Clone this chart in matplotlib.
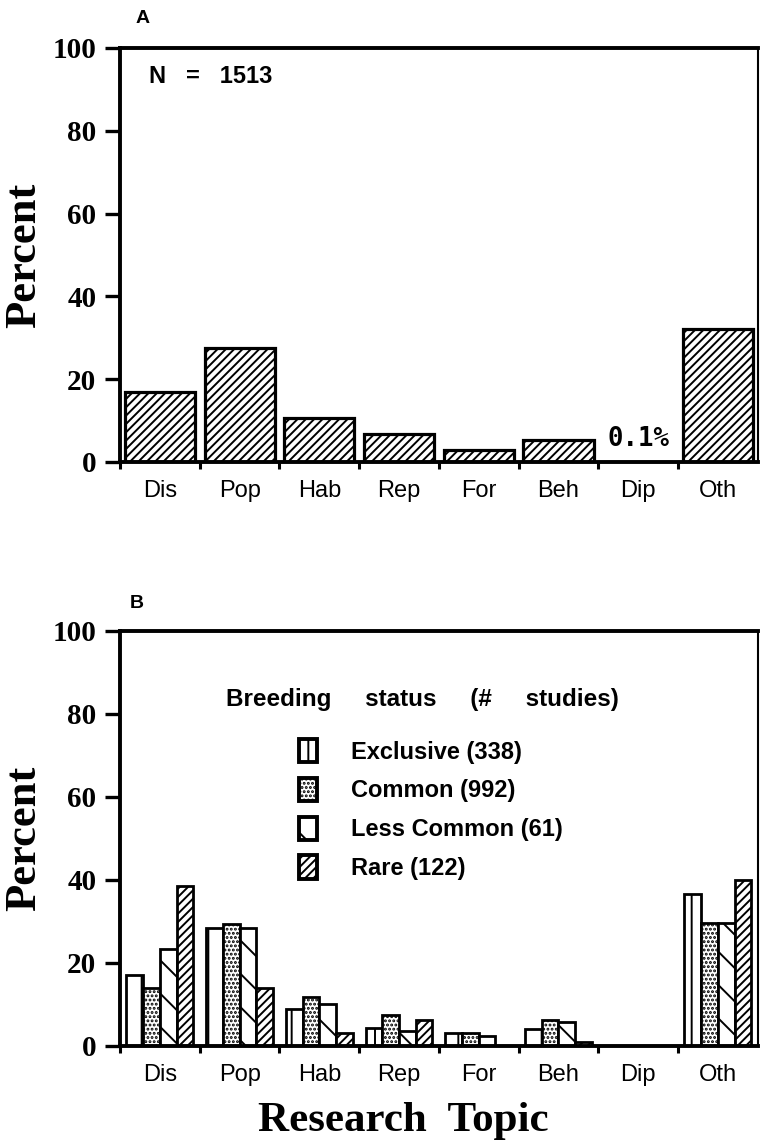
import matplotlib
matplotlib.use("Agg")
import matplotlib.pyplot as plt
import numpy as np

topics = ["Dis", "Pop", "Hab", "Rep", "For", "Beh", "Dip", "Oth"]

# panel A: all studies
all_pct = [16.8, 27.6, 10.6, 6.7, 2.9, 5.3, 0.1, 32.0]

# panel B: by breeding status
status_labels = ["Exclusive (338)", "Common (992)", "Less Common (61)", "Rare (122)"]
exclusive_pct = [17.1, 28.3, 8.9, 4.3, 3.0, 4.2, 0.0, 36.6]
common_pct = [14.0, 29.5, 11.9, 7.4, 3.0, 6.3, 0.0, 29.7]
less_common_pct = [23.3, 28.3, 10.1, 3.6, 2.5, 5.7, 0.0, 29.7]
rare_pct = [38.6, 14.0, 3.1, 6.3, 0.0, 1.0, 0.0, 40.0]

plt.rcParams['hatch.linewidth'] = 1.4
serif = "Liberation Serif"
sans = "Liberation Sans"

fig = plt.figure(figsize=(7.61, 11.48), dpi=100)
ax_a = fig.add_axes([0.1577, 0.5976, 0.8380, 0.3606])
ax_b = fig.add_axes([0.1577, 0.0889, 0.8380, 0.3615])

x = np.arange(len(topics))


def style_axes(ax):
    ax.set_xlim(-0.5, len(topics) - 0.5)
    ax.set_ylim(0, 100)
    for side in ["left", "bottom", "top"]:
        ax.spines[side].set_linewidth(2.8)
    ax.spines["right"].set_linewidth(1.5)
    ax.set_yticks([0, 20, 40, 60, 80, 100])
    ax.set_yticklabels(["0", "20", "40", "60", "80", "100"],
                       fontfamily=serif, fontweight="bold", fontsize=21)
    ax.tick_params(axis="y", direction="out", length=11, width=2.4, pad=6)
    # category boundaries get the small ticks, labels sit in between
    ax.set_xticks(np.arange(len(topics)) - 0.5)
    ax.set_xticklabels([])
    ax.tick_params(axis="x", which="major", direction="out", length=5, width=2.2)
    ax.set_xticks(x, minor=True)
    ax.set_xticklabels(topics, minor=True, fontfamily=sans, fontsize=17)
    ax.tick_params(axis="x", which="minor", length=0, pad=13)
    ax.set_ylabel("Percent", fontfamily=serif, fontweight="bold", fontsize=32, labelpad=6)


# --- panel A
ax_a.bar(x, all_pct, width=0.88, facecolor="white", edgecolor="black",
         linewidth=2.3, hatch="////")
style_axes(ax_a)
ax_a.text(0.045, 0.93, "N   =   1513", transform=ax_a.transAxes, fontfamily=sans,
          fontweight="bold", fontsize=17, va="center", ha="left")
ax_a.text(6.0, 2.4, "0.1%", fontfamily="DejaVu Sans Mono", fontweight="bold",
          fontsize=18.5, ha="center", va="bottom")
fig.text(0.188, 0.984, "A", fontfamily=sans, fontweight="bold", fontsize=14,
         ha="center", va="center")

# --- panel B
w = 0.21
series = [exclusive_pct, common_pct, less_common_pct, rare_pct]
hatches = ["|", "....", "\\", "////"]
handles = []
for i, (vals, h) in enumerate(zip(series, hatches)):
    b = ax_b.bar(x + (i - 1.5) * w, vals, width=w, facecolor="white",
                 edgecolor="black", linewidth=2.0, hatch=h)
    handles.append(b)
style_axes(ax_b)
fig.text(0.180, 0.474, "B", fontfamily=sans, fontweight="bold", fontsize=14,
         ha="center", va="center")
ax_b.text(0.474, 0.836, "Breeding     status     (#     studies)", transform=ax_b.transAxes,
          fontfamily=sans, fontweight="bold", fontsize=17.5, ha="center", va="center")
leg = ax_b.legend(handles, status_labels, loc="upper left",
                  bbox_to_anchor=(0.281, 0.74), frameon=False,
                  prop={"family": sans, "weight": "bold", "size": 17},
                  handlelength=0.75, handleheight=1.15, handletextpad=1.45,
                  labelspacing=0.6, borderpad=0, borderaxespad=0)
for p in leg.get_patches():
    p.set_linewidth(2.8)
ax_b.set_xlabel("Research  Topic", fontfamily=serif, fontweight="bold",
                fontsize=31, labelpad=8)
ax_b.xaxis.set_label_coords(0.445, -0.135)

fig.savefig("out.png", dpi=100)
